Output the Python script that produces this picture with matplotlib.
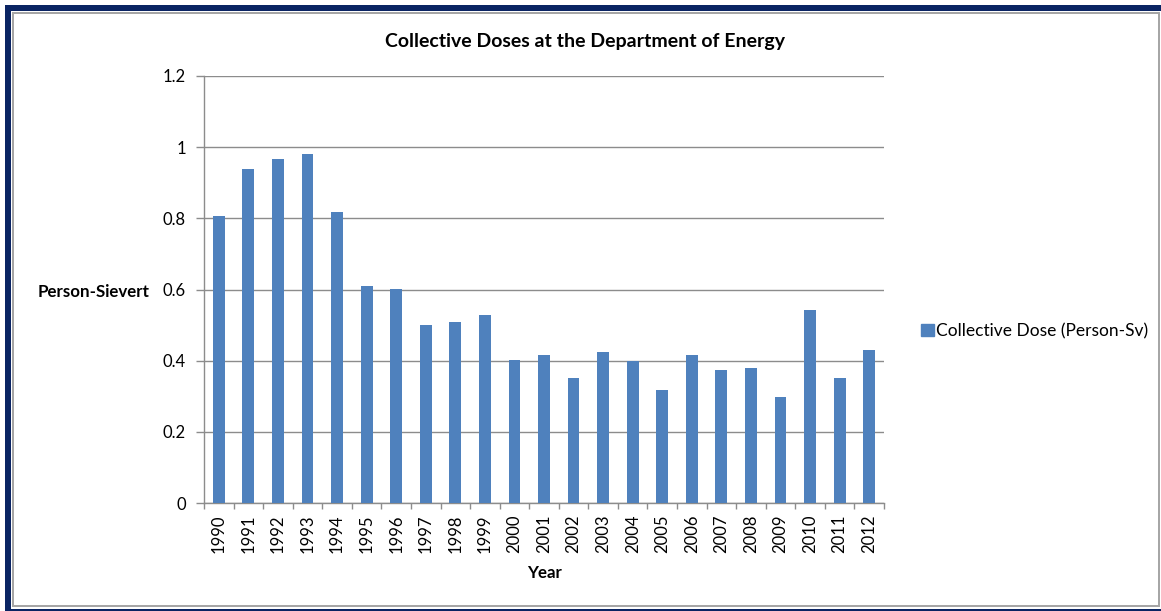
import matplotlib
matplotlib.use("Agg")
import matplotlib.pyplot as plt
from matplotlib.patches import Rectangle, Patch

years = [str(y) for y in range(1990, 2013)]
doses = [0.807, 0.939, 0.967, 0.981, 0.818, 0.610, 0.601, 0.501, 0.509, 0.528,
         0.403, 0.415, 0.350, 0.423, 0.398, 0.317, 0.415, 0.374, 0.378, 0.297,
         0.542, 0.350, 0.430]
yticks = [0, 0.2, 0.4, 0.6, 0.8, 1.0, 1.2]
ytick_labels = ["0", "0.2", "0.4", "0.6", "0.8", "1", "1.2"]

plt.rcParams['font.family'] = ['Lato', 'DejaVu Sans']

W, H = 1161, 611
fig = plt.figure(figsize=(W / 100, H / 100), dpi=100)

# frame
navy = "#0a2463"
fig.patches.append(Rectangle((5 / W, 0), 1 - 5 / W, 1 - 5 / H, transform=fig.transFigure,
                             facecolor=navy, edgecolor="none", zorder=-4))
fig.patches.append(Rectangle((11 / W, 2 / H), (W - 11) / W, (H - 13) / H, transform=fig.transFigure,
                             facecolor="white", edgecolor="none", zorder=-3))
fig.patches.append(Rectangle((12 / W, 4 / H), (1160 - 12) / W, (H - 16) / H, transform=fig.transFigure,
                             facecolor="#a6a6a6", edgecolor="none", zorder=-2))
fig.patches.append(Rectangle((14 / W, 6 / H), (1158 - 14) / W, (H - 20) / H, transform=fig.transFigure,
                             facecolor="white", edgecolor="none", zorder=-1))

ax = fig.add_axes([204 / W, 1 - 503 / H, (884 - 204) / W, (503 - 76) / H])
x = list(range(len(years)))
bars = ax.bar(x, doses, width=0.4, color="#4f81bd", zorder=3)
ax.set_xlim(-0.5, len(years) - 0.5)
ax.set_ylim(0, 1.2)
ax.set_yticks(yticks)
ax.set_yticklabels(ytick_labels, fontsize=12)
ax.set_xticks(x)
ax.set_xticklabels(years, rotation=90, fontsize=12)
ax.tick_params(axis='x', length=0, pad=8)
ax.set_xticks([i - 0.5 for i in range(len(years) + 1)], minor=True)
ax.tick_params(axis='x', which='minor', length=4.5, color="#8c8c8c", width=1)
ax.tick_params(axis='y', length=6, color="#8c8c8c", width=1, pad=7)
ax.grid(axis='y', color="#8c8c8c", linewidth=1, zorder=0)
for s in ['top', 'right']:
    ax.spines[s].set_visible(False)
for s in ['left', 'bottom']:
    ax.spines[s].set_color("#8c8c8c")
    ax.spines[s].set_linewidth(1)

fig.text(585 / W, 1 - 42 / H, "Collective Doses at the Department of Energy",
         ha='center', va='center', fontsize=14, fontweight='bold')
fig.text(94 / W, 1 - 292 / H, "Person-Sievert", ha='center', va='center',
         fontsize=12.2, fontweight='bold')
fig.text(545 / W, 1 - 573 / H, "Year", ha='center', va='center',
         fontsize=12.2, fontweight='bold')

fig.legend(handles=[Patch(color="#4f81bd", label="Collective Dose (Person-Sv)")],
           loc='center left', bbox_to_anchor=(905 / W, 1 - 331 / H), frameon=False,
           fontsize=12.5, handlelength=0.75, handleheight=0.75, handletextpad=0.15)

fig.savefig("out.png", dpi=100)
